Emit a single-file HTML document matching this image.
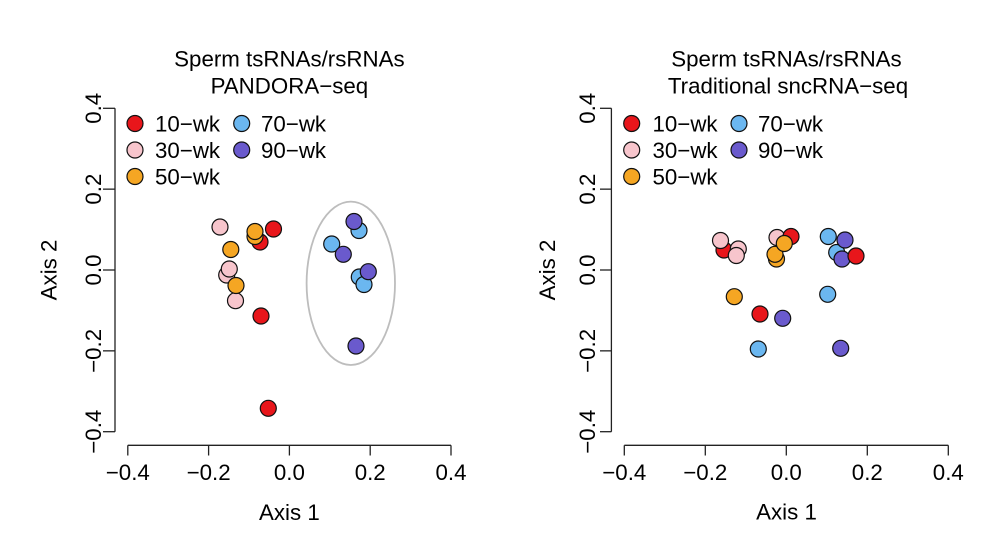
<!DOCTYPE html>
<html>
<head>
<meta charset="utf-8">
<style>
html,body{margin:0;padding:0;background:#fff;}
svg{display:block;}
text{font-family:"Liberation Sans",Arial,sans-serif;font-size:22.3px;fill:#000;}
</style>
</head>
<body>
<svg width="1000" height="536" viewBox="0 0 1000 536" xmlns="http://www.w3.org/2000/svg">
<rect width="1000" height="536" fill="#fff"/>

<!-- ===== LEFT PANEL ===== -->
<g>
<text x="289.4" y="66.5" text-anchor="middle">Sperm tsRNAs/rsRNAs</text>
<text x="289.4" y="93.3" text-anchor="middle">PANDORA−seq</text>

<g stroke="#222" stroke-width="1.3" fill="none">
<line x1="115" y1="108.3" x2="115" y2="431.7"/>
<line x1="103" y1="108.3" x2="115" y2="108.3"/>
<line x1="103" y1="189.15" x2="115" y2="189.15"/>
<line x1="103" y1="270" x2="115" y2="270"/>
<line x1="103" y1="350.85" x2="115" y2="350.85"/>
<line x1="103" y1="431.7" x2="115" y2="431.7"/>
<line x1="127.8" y1="445.3" x2="451" y2="445.3"/>
<line x1="127.8" y1="445.3" x2="127.8" y2="455.5"/>
<line x1="208.6" y1="445.3" x2="208.6" y2="455.5"/>
<line x1="289.4" y1="445.3" x2="289.4" y2="455.5"/>
<line x1="370.2" y1="445.3" x2="370.2" y2="455.5"/>
<line x1="451" y1="445.3" x2="451" y2="455.5"/>
</g>
<text x="127.8" y="480" text-anchor="middle">−0.4</text>
<text x="208.6" y="480" text-anchor="middle">−0.2</text>
<text x="289.4" y="480" text-anchor="middle">0.0</text>
<text x="370.2" y="480" text-anchor="middle">0.2</text>
<text x="451" y="480" text-anchor="middle">0.4</text>
<text x="289.4" y="520" text-anchor="middle">Axis 1</text>

<text transform="translate(101,108.3) rotate(-90)" text-anchor="middle">0.4</text>
<text transform="translate(101,189.15) rotate(-90)" text-anchor="middle">0.2</text>
<text transform="translate(101,270) rotate(-90)" text-anchor="middle">0.0</text>
<text transform="translate(101,350.85) rotate(-90)" text-anchor="middle">−0.2</text>
<text transform="translate(101,431.7) rotate(-90)" text-anchor="middle">−0.4</text>
<text transform="translate(56.7,270) rotate(-90)" text-anchor="middle">Axis 2</text>

<!-- legend -->
<g stroke="#111" stroke-width="1.2">
<circle cx="135" cy="123.5" r="8" fill="#E8161B"/>
<circle cx="135" cy="150" r="8" fill="#F7C5CC"/>
<circle cx="135" cy="176.5" r="8" fill="#F5A623"/>
<circle cx="241.7" cy="123.5" r="8" fill="#6BB7F0"/>
<circle cx="241.7" cy="150" r="8" fill="#6A5ACD"/>
</g>
<text x="155" y="131.7">10−wk</text>
<text x="155" y="158.2">30−wk</text>
<text x="155" y="184.5">50−wk</text>
<text x="261" y="131.7">70−wk</text>
<text x="261" y="158.2">90−wk</text>

<ellipse cx="350.8" cy="283.3" rx="44.2" ry="81.7" fill="none" stroke="#BDBDBD" stroke-width="1.8"/>

<g stroke="#111" stroke-width="1.2">
<circle cx="273.5" cy="229" r="8" fill="#E8161B"/>
<circle cx="260" cy="242" r="8" fill="#E8161B"/>
<circle cx="261" cy="316" r="8" fill="#E8161B"/>
<circle cx="268.3" cy="408.3" r="8" fill="#E8161B"/>
<circle cx="220" cy="227" r="8" fill="#F7C5CC"/>
<circle cx="226.7" cy="275" r="8" fill="#F7C5CC"/>
<circle cx="229.3" cy="269" r="8" fill="#F7C5CC"/>
<circle cx="235.5" cy="300.7" r="8" fill="#F7C5CC"/>
<circle cx="255" cy="236.5" r="8" fill="#F5A623"/>
<circle cx="255" cy="231.5" r="8" fill="#F5A623"/>
<circle cx="230.8" cy="249.5" r="8" fill="#F5A623"/>
<circle cx="236" cy="285.5" r="8" fill="#F5A623"/>
<circle cx="359" cy="230.5" r="8" fill="#6BB7F0"/>
<circle cx="331.7" cy="244" r="8" fill="#6BB7F0"/>
<circle cx="359.3" cy="277" r="8" fill="#6BB7F0"/>
<circle cx="364" cy="284.5" r="8" fill="#6BB7F0"/>
<circle cx="354" cy="221.5" r="8" fill="#6A5ACD"/>
<circle cx="343.3" cy="254.3" r="8" fill="#6A5ACD"/>
<circle cx="368.3" cy="271.7" r="8" fill="#6A5ACD"/>
<circle cx="356" cy="346" r="8" fill="#6A5ACD"/>
</g>
</g>

<!-- ===== RIGHT PANEL ===== -->
<g>
<text x="786.5" y="66.5" text-anchor="middle">Sperm tsRNAs/rsRNAs</text>
<text x="788" y="93.3" text-anchor="middle">Traditional sncRNA−seq</text>

<g stroke="#222" stroke-width="1.3" fill="none">
<line x1="611.4" y1="108.3" x2="611.4" y2="431.7"/>
<line x1="600" y1="108.3" x2="611.4" y2="108.3"/>
<line x1="600" y1="189.15" x2="611.4" y2="189.15"/>
<line x1="600" y1="270" x2="611.4" y2="270"/>
<line x1="600" y1="350.85" x2="611.4" y2="350.85"/>
<line x1="600" y1="431.7" x2="611.4" y2="431.7"/>
<line x1="624.3" y1="445.3" x2="948.3" y2="445.3"/>
<line x1="624.3" y1="445.3" x2="624.3" y2="455.5"/>
<line x1="705.3" y1="445.3" x2="705.3" y2="455.5"/>
<line x1="786.3" y1="445.3" x2="786.3" y2="455.5"/>
<line x1="867.3" y1="445.3" x2="867.3" y2="455.5"/>
<line x1="948.3" y1="445.3" x2="948.3" y2="455.5"/>
</g>
<text x="624.3" y="480" text-anchor="middle">−0.4</text>
<text x="705.3" y="480" text-anchor="middle">−0.2</text>
<text x="786.3" y="480" text-anchor="middle">0.0</text>
<text x="867.3" y="480" text-anchor="middle">0.2</text>
<text x="948.3" y="480" text-anchor="middle">0.4</text>
<text x="786.5" y="519.5" text-anchor="middle">Axis 1</text>

<text transform="translate(595,108.3) rotate(-90)" text-anchor="middle">0.4</text>
<text transform="translate(595,189.15) rotate(-90)" text-anchor="middle">0.2</text>
<text transform="translate(595,270) rotate(-90)" text-anchor="middle">0.0</text>
<text transform="translate(595,350.85) rotate(-90)" text-anchor="middle">−0.2</text>
<text transform="translate(595,431.7) rotate(-90)" text-anchor="middle">−0.4</text>
<text transform="translate(555,270) rotate(-90)" text-anchor="middle">Axis 2</text>

<g stroke="#111" stroke-width="1.2">
<circle cx="631.7" cy="123.5" r="8" fill="#E8161B"/>
<circle cx="631.7" cy="150" r="8" fill="#F7C5CC"/>
<circle cx="631.7" cy="176.5" r="8" fill="#F5A623"/>
<circle cx="739" cy="123.5" r="8" fill="#6BB7F0"/>
<circle cx="739" cy="150" r="8" fill="#6A5ACD"/>
</g>
<text x="652.5" y="131.7">10−wk</text>
<text x="652.5" y="158.2">30−wk</text>
<text x="652.5" y="184.5">50−wk</text>
<text x="758" y="131.7">70−wk</text>
<text x="758" y="158.2">90−wk</text>

<g stroke="#111" stroke-width="1.2">
<circle cx="724" cy="250" r="8" fill="#E8161B"/>
<circle cx="760" cy="314" r="8" fill="#E8161B"/>
<circle cx="720.5" cy="240.5" r="8" fill="#F7C5CC"/>
<circle cx="738.3" cy="249" r="8" fill="#F7C5CC"/>
<circle cx="736.3" cy="255.5" r="8" fill="#F7C5CC"/>
<circle cx="777" cy="237.5" r="8" fill="#F7C5CC"/>
<circle cx="791" cy="236.5" r="8" fill="#E8161B"/>
<circle cx="776.5" cy="259" r="8" fill="#F5A623"/>
<circle cx="775" cy="254.3" r="8" fill="#F5A623"/>
<circle cx="784.3" cy="243.5" r="8" fill="#F5A623"/>
<circle cx="734.3" cy="296.7" r="8" fill="#F5A623"/>
<circle cx="828.3" cy="236.5" r="8" fill="#6BB7F0"/>
<circle cx="836.7" cy="252.5" r="8" fill="#6BB7F0"/>
<circle cx="827.7" cy="294.3" r="8" fill="#6BB7F0"/>
<circle cx="758.3" cy="349" r="8" fill="#6BB7F0"/>
<circle cx="845" cy="240" r="8" fill="#6A5ACD"/>
<circle cx="842" cy="259" r="8" fill="#6A5ACD"/>
<circle cx="782.7" cy="318.3" r="8" fill="#6A5ACD"/>
<circle cx="840.7" cy="348.3" r="8" fill="#6A5ACD"/>
<circle cx="856" cy="256" r="8" fill="#E8161B"/>
</g>
</g>
</svg>
</body>
</html>
